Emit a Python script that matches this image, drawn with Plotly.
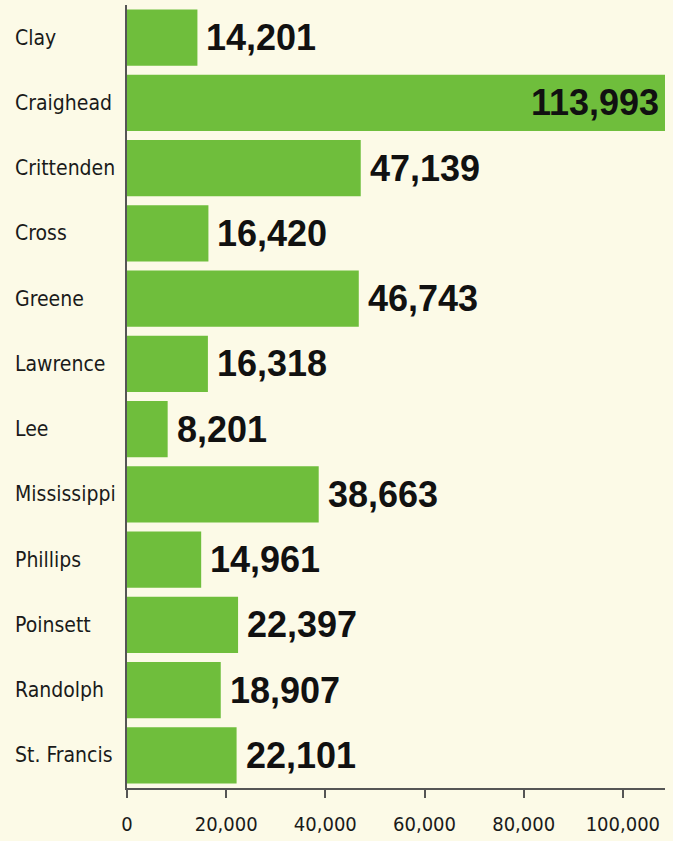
import plotly.graph_objects as go

counties = ["Clay", "Craighead", "Crittenden", "Cross", "Greene", "Lawrence", "Lee",
            "Mississippi", "Phillips", "Poinsett", "Randolph", "St. Francis"]
population = [14201, 113993, 47139, 16420, 46743, 16318, 8201, 38663, 14961, 22397, 18907, 22101]
tick_vals = [0, 20000, 40000, 60000, 80000, 100000]
tick_text = ["0", "20,000", "40,000", "60,000", "80,000", "100,000"]

X_MAX = 108500
W, H = 673, 841
ML, MR, MT, MB = 127, 8, 5, 46
BG = "#FCFAE7"
GREEN = "#6FBE3C"
NARROW = "DejaVu Sans Condensed, Liberation Sans Narrow, sans-serif"
BOLD = "Liberation Sans, Arial, Helvetica, sans-serif"

fig = go.Figure(go.Bar(
    x=population, y=counties, orientation="h",
    marker=dict(color=GREEN, line=dict(width=0)),
    hoverinfo="x+y",
))

plot_w = W - ML - MR
annotations = []
for c, v in zip(counties, population):
    lab_font = dict(family=BOLD, size=36, color="#111111", weight="bold")
    if v > X_MAX * 0.95:
        annotations.append(dict(x=min(v, X_MAX), y=c, xref="x", yref="y", text=f"{v:,}",
                                xanchor="right", showarrow=False, xshift=-4, font=lab_font))
    else:
        annotations.append(dict(x=v, y=c, xref="x", yref="y", text=f"{v:,}",
                                xanchor="left", showarrow=False, xshift=7, font=lab_font))
    annotations.append(dict(x=(13 - ML) / plot_w, y=c, xref="paper", yref="y", text=c,
                            xanchor="left", showarrow=False,
                            font=dict(family=NARROW, size=21, color="#1a1a1a")))

fig.update_layout(
    width=W, height=H,
    margin=dict(l=ML, r=MR, t=MT, b=MB),
    paper_bgcolor=BG, plot_bgcolor=BG,
    bargap=0.14,
    showlegend=False,
    annotations=annotations,
    xaxis=dict(range=[0, X_MAX], tickvals=tick_vals, ticktext=tick_text,
               showgrid=False, zeroline=False, showline=True, linecolor="#555555", linewidth=2,
               ticks="outside", ticklen=8, tickwidth=2, tickcolor="#555555",
               ticklabelstandoff=9,
               tickfont=dict(family=NARROW, size=20, color="#1a1a1a"), fixedrange=True),
    yaxis=dict(categoryorder="array", categoryarray=counties, autorange="reversed",
               showticklabels=False, showgrid=False, zeroline=False,
               showline=True, linecolor="#555555", linewidth=2, ticks="", fixedrange=True),
)

fig.write_html("out.html", config={"displayModeBar": False},
               post_script="document.body.style.margin='0';document.body.style.background='%s';" % BG)
